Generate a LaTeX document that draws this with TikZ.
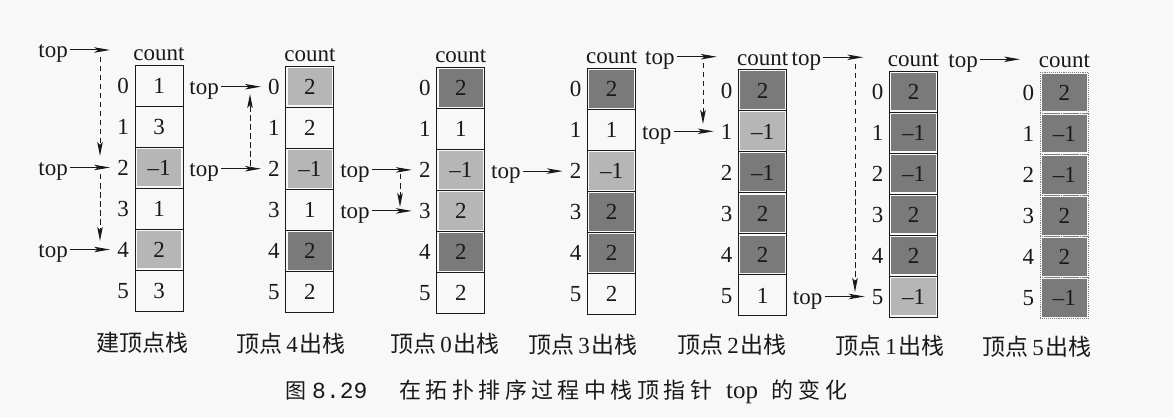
\documentclass[tikz,border=0pt]{standalone}
\usepackage{fontspec}
\setmainfont{Liberation Serif}
\newfontfamily\cjk{Noto Sans CJK SC}
\newfontfamily\capmono{Liberation Mono}
\usetikzlibrary{arrows.meta}
\definecolor{bg}{RGB}{248,248,248}
\definecolor{ink}{RGB}{25,25,25}
\definecolor{shW}{RGB}{248,248,248}
\definecolor{shL}{RGB}{182,182,182}
\definecolor{shD}{RGB}{122,122,122}
\newcommand\outlab[1]{{\cjk 顶点}\hspace{4pt}#1\hspace{2pt}{\cjk 出栈}}
\tikzset{
 txt/.style={font=\fontsize{23}{23}\selectfont, text=ink, inner sep=0pt, text height=15.5pt, text depth=0pt},
 cellbox/.style={txt, draw=ink, line width=0.9pt, minimum width=48pt, minimum height=41pt},
 normb/.style={},
 dotb/.style={draw=gray, densely dotted},
 idx/.style={txt, inner xsep=7pt, inner ysep=2pt},
 toplab/.style={txt, inner xsep=2pt},
 ptr/.style={draw=ink, line width=1pt, -{Stealth[length=16pt,width=5.5pt,inset=4pt]}},
 vptr/.style={draw=ink, line width=1pt, -{Stealth[length=14pt,width=5.5pt,inset=3pt]}, dash pattern=on 5.5pt off 3.5pt},
 lab/.style={font=\fontsize{23}{23}\selectfont, text=ink, inner sep=0pt},
 captxt/.style={text=ink, anchor=base west, inner sep=0pt},
}
\begin{document}
\begin{tikzpicture}[x=1pt,y=-1pt]
\fill[bg] (0,0) rectangle (1173,417);
\useasboundingbox (0,0) rectangle (1173,417);

% stacks
\foreach \i/\cells/\bs in {
 0/{1/W,3/W,–1/L,1/W,2/L,3/W}/normb,
 1/{2/L,2/W,–1/L,1/W,2/D,2/W}/normb,
 2/{2/D,1/W,–1/L,2/L,2/D,2/W}/normb,
 3/{2/D,1/W,–1/L,2/D,2/D,2/W}/normb,
 4/{2/D,–1/L,–1/D,2/D,2/D,1/W}/normb,
 5/{2/D,–1/D,–1/D,2/D,2/D,–1/L}/normb,
 6/{2/D,–1/D,–1/D,2/D,2/D,–1/D}/dotb}{
  \pgfmathsetmacro\xL{135+150.9*\i}
  \pgfmathsetmacro\yT{65+1.2*\i}
  \node[txt] (h\i) at (\xL+24,\yT-12.5) {count};
  \foreach \val/\sh [count=\k from 0] in \cells {
    \pgfmathsetmacro\yc{\yT+20.5+41*\k}
    \fill[sh\sh] (\xL+1.7,\yc-18.8) rectangle (\xL+46.3,\yc+18.8);
    \node[cellbox,\bs] (c\i\k) at (\xL+24,\yc) {\val};
    \node[idx] (n\i\k) at (\xL-12,\yc) {\k};
  }
}

% stack 0 pointers
\coordinate (q0) at (110,50);
\node[toplab,anchor=east] (t0x) at ([xshift=-40pt]q0) {top};
\draw[ptr] (t0x.east) -- (q0);
\node[toplab,anchor=east] (t02) at ([xshift=-40pt]n02.west) {top};
\draw[ptr] (t02.east) -- (n02.west);
\node[toplab,anchor=east] (t04) at ([xshift=-40pt]n04.west) {top};
\draw[ptr] (t04.east) -- (n04.west);
\coordinate (d0a) at (100,57);
\coordinate (d0b) at (100,156);
\coordinate (d0c) at (100,174);
\coordinate (d0d) at (100,241);
\draw[vptr] (d0a) -- (d0b);
\draw[vptr] (d0c) -- (d0d);

% stack 1 pointers
\node[toplab,anchor=east] (t10) at ([xshift=-40pt]n10.west) {top};
\draw[ptr] (t10.east) -- (n10.west);
\node[toplab,anchor=east] (t12) at ([xshift=-40pt]n12.west) {top};
\draw[ptr] (t12.east) -- (n12.west);
\coordinate (d1a) at (250,166);
\coordinate (d1b) at (250,94);
\draw[vptr] (d1a) -- (d1b);

% stack 2 pointers
\node[toplab,anchor=east] (t22) at ([xshift=-40pt]n22.west) {top};
\draw[ptr] (t22.east) -- (n22.west);
\node[toplab,anchor=east] (t23) at ([xshift=-40pt]n23.west) {top};
\draw[ptr] (t23.east) -- (n23.west);
\coordinate (d2a) at (400,174);
\coordinate (d2b) at (400,207);
\draw[vptr] (d2a) -- (d2b);

% stack 3 pointer
\node[toplab,anchor=east] (t32) at ([xshift=-40pt]n32.west) {top};
\draw[ptr] (t32.east) -- (n32.west);

% stack 4 pointers
\coordinate (q4) at (716.7,56.7);
\node[toplab,anchor=east] (t4x) at ([xshift=-40pt]q4) {top};
\draw[ptr] (t4x.east) -- (q4);
\node[toplab,anchor=east] (t41) at ([xshift=-40pt]n41.west) {top};
\draw[ptr] (t41.east) -- (n41.west);
\coordinate (d4a) at (703,63);
\coordinate (d4b) at (703,124);
\draw[vptr] (d4a) -- (d4b);

% stack 5 pointers
\coordinate (q5) at (863.3,57.3);
\node[toplab,anchor=east] (t5x) at ([xshift=-40pt]q5) {top};
\draw[ptr] (t5x.east) -- (q5);
\node[toplab,anchor=east] (t55) at ([xshift=-40pt]n55.west) {top};
\draw[ptr] (t55.east) -- (n55.west);
\coordinate (d5a) at (855,64);
\coordinate (d5b) at (855,292);
\draw[vptr] (d5a) -- (d5b);

% stack 6 pointer
\coordinate (q6) at (1020,59.3);
\node[toplab,anchor=east] (t6x) at ([xshift=-40pt]q6) {top};
\draw[ptr] (t6x.east) -- (q6);

% labels under stacks
\node[lab] (l0) at (142,343) {\cjk 建顶点栈};
\node[lab] (l1) at (291,343.5) {\outlab{4}};
\node[lab] (l2) at (445,344) {\outlab{0}};
\node[lab] (l3) at (583,344.5) {\outlab{3}};
\node[lab] (l4) at (732,345) {\outlab{2}};
\node[lab] (l5) at (890,346) {\outlab{1}};
\node[lab] (l6) at (1037,346.5) {\outlab{5}};

% caption
\node[captxt] (cap1) at (285,398) {\fontsize{21}{21}\selectfont\cjk 图};
\node[captxt] (cap2) at (312,398) {\fontsize{23}{23}\selectfont\capmono 8.29};
\node[captxt] (cap3) at (399,398) {\fontsize{22}{22}\selectfont\cjk\makebox[313pt][s]{在\hfill 拓\hfill 扑\hfill 排\hfill 序\hfill 过\hfill 程\hfill 中\hfill 栈\hfill 顶\hfill 指\hfill 针}};
\node[captxt] (cap4) at (726,398) {\fontsize{25}{25}\selectfont top};
\node[captxt] (cap5) at (771,398) {\fontsize{22}{22}\selectfont\cjk\makebox[76pt][s]{的\hfill 变\hfill 化}};
\end{tikzpicture}
\end{document}
